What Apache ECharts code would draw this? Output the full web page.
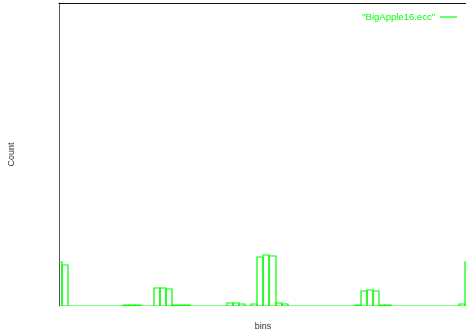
<!DOCTYPE html>
<html>
<head>
<meta charset="utf-8">
<script src="https://cdn.jsdelivr.net/npm/echarts@6/dist/echarts.min.js"></script>
<style>html,body{margin:0;padding:0;background:#fff}#c{width:466px;height:335px}</style>
</head>
<body>
<div id="c"></div>
<script>
// Histogram bins (index) and counts
const bins = [0,1,2,3,4,5,6,7,8,9,10,11,12,13,14,15,16,17,18,19,20,21,22,23,24,25,26,27,28,29,30,31,32,33,34,35,36,37,38,39,40,41,42,43,44,45,46,47,48,49,50,51,52,53,54,55,56,57,58,59,60,61,62,63,64,65,66,67];
const counts = [145,135,0,0,0,0,0,0,0,0,0,3,3,3,0,0,60,61,56,3,3,3,0,0,0,0,0,0,9,9,6,0,7,163,167,165,9,6,0,0,0,0,0,0,0,0,0,0,0,3,49,52,49,3,3,0,0,0,0,0,0,0,0,0,0,0,7,145];
const seriesName = '"BigApple16.ecc"';
const xLabel = 'bins';
const yLabel = 'Count';

const green = '#00ff00';
const chart = echarts.init(document.getElementById('c'), null, {renderer: 'canvas'});
const data = bins.map((b, i) => [b, counts[i]]);
const hiddenParts = {axisTick: {show: false}, axisLabel: {show: false}, splitLine: {show: false}};
chart.setOption({
  animation: false,
  backgroundColor: '#fff',
  grid: {left: 59, top: 3, width: 408, height: 303, outerBoundsMode: 'none', containLabel: false, show: false},
  legend: {
    right: 4, top: 7, icon: 'rect', itemWidth: 17, itemHeight: 1.2, align: 'right',
    textStyle: {color: green, fontSize: 9.5, fontFamily: 'Liberation Sans'},
    data: [seriesName]
  },
  xAxis: [{
    type: 'value', min: 0, max: 66.89, position: 'bottom',
    name: xLabel, nameLocation: 'middle', nameGap: 16,
    nameTextStyle: {color: '#333', fontSize: 9, fontFamily: 'Liberation Sans'},
    axisLine: {show: false}, ...hiddenParts
  }, {
    type: 'value', min: 0, max: 66.89, position: 'top',
    axisLine: {show: true, lineStyle: {color: '#111', width: 1}}, ...hiddenParts
  }],
  yAxis: {
    type: 'value', min: 0, max: 1000,
    name: yLabel, nameLocation: 'middle', nameGap: 43, nameRotate: 90,
    nameTextStyle: {color: '#333', fontSize: 9, fontFamily: 'Liberation Sans'},
    axisLine: {show: true, onZero: false, lineStyle: {color: '#555', width: 1}}, ...hiddenParts
  },
  series: [{
    name: seriesName,
    type: 'custom',
    xAxisIndex: 0,
    clip: true,
    itemStyle: {color: green},
    emphasis: {disabled: true},
    data: data,
    renderItem: function (params, api) {
      const k = api.value(0), v = api.value(1);
      const p0 = api.coord([k - 0.5, v]);
      const p1 = api.coord([k + 0.5, 0]);
      const x0 = Math.round(p0[0]), x1 = Math.round(p1[0]);
      const y0 = Math.round(p0[1]), y1 = Math.round(p1[1]);
      return {
        type: 'polyline',
        shape: {points: [[x0, y1], [x0, y0], [x1, y0], [x1, y1], [x0, y1]]},
        style: {fill: 'none', stroke: green, lineWidth: 1.2}
      };
    }
  }]
});
</script>
</body>
</html>
